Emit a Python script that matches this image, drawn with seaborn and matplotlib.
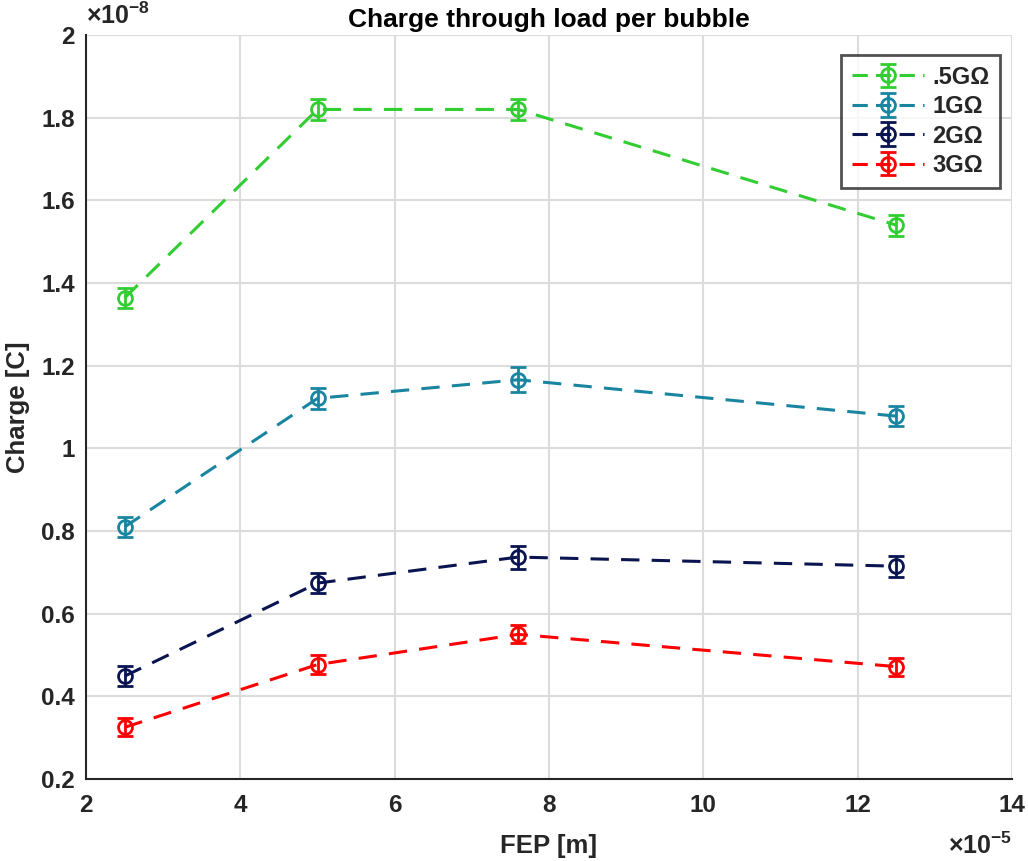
import numpy as np
import pandas as pd
import matplotlib
matplotlib.use("Agg")
import matplotlib.pyplot as plt
import seaborn as sns
from matplotlib.ticker import FuncFormatter, FixedLocator
from matplotlib.lines import Line2D
from matplotlib.legend_handler import HandlerTuple

sns.set_style("white")
plt.rcParams['font.family'] = ['Liberation Sans', 'DejaVu Sans']
plt.rcParams['font.weight'] = 'bold'
plt.rcParams['mathtext.fontset'] = 'custom'
plt.rcParams['mathtext.rm'] = 'Liberation Sans:bold'
plt.rcParams['mathtext.bf'] = 'Liberation Sans:bold'

fep = [2.5e-5, 5.0e-5, 7.6e-5, 12.5e-5]
labels = ['.5G\u03a9', '1G\u03a9', '2G\u03a9', '3G\u03a9']
charge_05 = [1.364e-8, 1.82e-8, 1.82e-8, 1.54e-8]
charge_1 = [0.810e-8, 1.121e-8, 1.166e-8, 1.078e-8]
charge_2 = [0.449e-8, 0.674e-8, 0.737e-8, 0.715e-8]
charge_3 = [0.325e-8, 0.477e-8, 0.550e-8, 0.472e-8]
err_05 = [0.025e-8, 0.025e-8, 0.025e-8, 0.025e-8]
err_1 = [0.025e-8, 0.025e-8, 0.03e-8, 0.025e-8]
err_2 = [0.025e-8, 0.025e-8, 0.028e-8, 0.025e-8]
err_3 = [0.022e-8, 0.022e-8, 0.022e-8, 0.022e-8]
colors = ['#32cd32', '#1a85a0', '#0a1450', '#ff0000']

series = [charge_05, charge_1, charge_2, charge_3]
errs = [err_05, err_1, err_2, err_3]

df = pd.DataFrame({
    'FEP': fep * 4,
    'Charge': sum(series, []),
    'Load': sum([[l] * 4 for l in labels], []),
})

LW = 2.2
DASH = (0, (6, 4))

fig = plt.figure(figsize=(10.28, 8.61), dpi=100)
ax = fig.add_axes([0.0837, 0.0952, 0.9007, 0.8641])

sns.lineplot(data=df, x='FEP', y='Charge', hue='Load', palette=colors,
             hue_order=labels, ax=ax, legend=False, linewidth=LW,
             dashes=False, linestyle=DASH, zorder=2)

handles = []
for y, e, c, l in zip(series, errs, colors, labels):
    h = ax.errorbar(fep, y, yerr=e, fmt='o', color=c, mfc='none', mec=c,
                    ms=10, mew=2, elinewidth=2, capsize=6, capthick=2.5,
                    label=l, zorder=3)
    proxy = Line2D([], [], color=c, lw=LW, linestyle=(0, (5, 2.7)))
    handles.append((proxy, h))

ax.set_xlim(2e-5, 14e-5)
ax.set_ylim(0.2e-8, 2e-8)
ax.xaxis.set_major_locator(FixedLocator(np.arange(2, 15, 2) * 1e-5))
ax.yaxis.set_major_locator(FixedLocator(np.arange(0.2, 2.01, 0.2) * 1e-8))
ax.xaxis.set_major_formatter(FuncFormatter(lambda v, p: f"{v / 1e-5:g}"))
ax.yaxis.set_major_formatter(FuncFormatter(lambda v, p: f"{round(v / 1e-8, 2):g}"))
ax.grid(True, color='#dcdcdc', linewidth=1.5)
ax.set_axisbelow(True)
for s in ['top', 'right']:
    ax.spines[s].set_visible(False)
for s in ['left', 'bottom']:
    ax.spines[s].set_color('#262626')
    ax.spines[s].set_linewidth(1.5)
ax.tick_params(axis='both', labelsize=17.5, colors='#262626', direction='in',
               length=6, width=1.5, pad=8)
ax.tick_params(axis='x', pad=11)
for t in ax.get_xticklabels() + ax.get_yticklabels():
    t.set_fontweight('bold')

ax.set_xlabel('FEP [m]', fontsize=18.5, fontweight='bold', labelpad=12,
              color='#262626')
ax.set_ylabel('Charge [C]', fontsize=18.5, fontweight='bold', labelpad=8,
              color='#262626')
ax.set_title('Charge through load per bubble', fontsize=19, fontweight='bold',
             pad=6, color='black')

ax.text(0.0, 1.008, r'$\times$10$^{-8}$', transform=ax.transAxes,
        fontsize=18, ha='left', va='bottom', color='#262626')
ax.text(1.0, -0.072, r'$\times$10$^{-5}$', transform=ax.transAxes,
        fontsize=18, ha='right', va='top', color='#262626')

leg = ax.legend(handles=handles, labels=labels, loc='upper right',
                bbox_to_anchor=(0.987, 0.973), fontsize=17, frameon=True,
                fancybox=False, edgecolor='#262626', handlelength=3.05,
                borderpad=0.45, labelspacing=0.27, handletextpad=0.35,
                borderaxespad=0.0,
                handler_map={tuple: HandlerTuple(ndivide=1)})
leg.get_frame().set_linewidth(2)
for t in leg.get_texts():
    t.set_fontweight('bold')

fig.savefig('out.png', dpi=100)
